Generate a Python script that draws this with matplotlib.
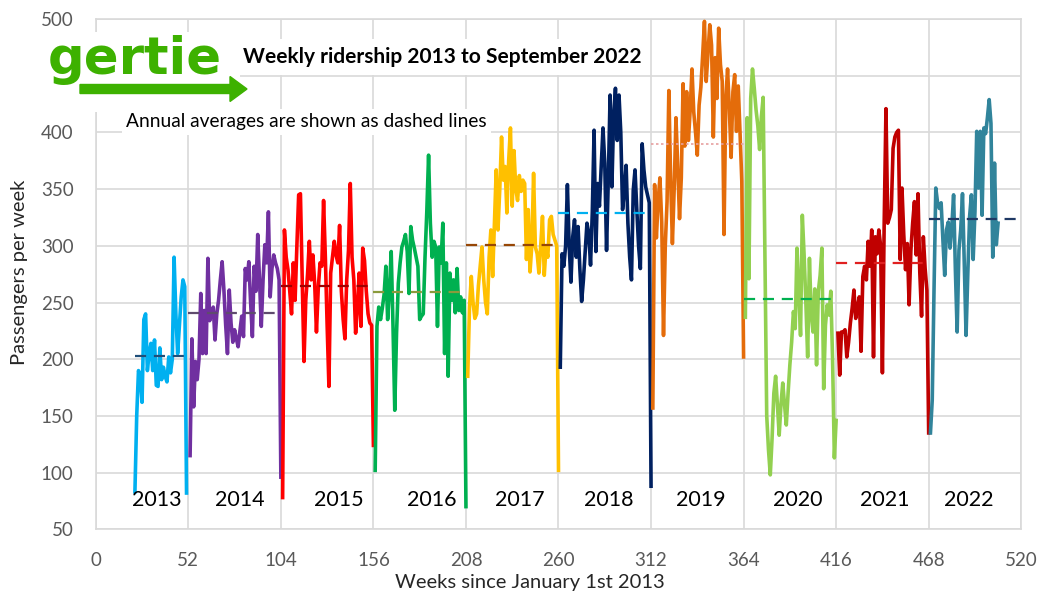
import numpy as np
import matplotlib
matplotlib.use("Agg")
import matplotlib.pyplot as plt
from matplotlib.patches import Rectangle, FancyArrow

plt.rcParams['font.family'] = ['Lato', 'DejaVu Sans']

# weekly passengers, one list per year (first week of each list in start_weeks)
years = [2013, 2014, 2015, 2016, 2017, 2018, 2019, 2020, 2021, 2022]
start_weeks = [22, 53, 105, 157, 209, 261, 313, 365, 417, 469]

v2013 = [83, 150, 190, 185, 162, 235, 240, 190, 205, 214, 190, 217, 177, 176, 210,
         182, 193, 185, 180, 202, 188, 200, 290, 240, 205, 230, 255, 270, 264, 82]
v2014 = [115, 218, 158, 198, 182, 200, 258, 205, 243, 205, 289, 234, 240, 246, 217,
         240, 252, 270, 286, 261, 230, 205, 261, 232, 215, 226, 218, 211, 225, 238,
         220, 280, 270, 286, 250, 220, 282, 260, 310, 270, 229, 270, 301, 285, 330,
         255, 280, 292, 285, 280, 270, 96]
v2015 = [78, 314, 290, 279, 260, 240, 285, 252, 300, 345, 346, 270, 198, 252, 275,
         304, 270, 292, 267, 224, 262, 285, 282, 340, 290, 230, 176, 276, 290, 304,
         292, 285, 318, 260, 235, 218, 270, 296, 355, 290, 270, 223, 246, 276, 229,
         298, 287, 260, 240, 232, 230, 124]
v2016 = [102, 229, 246, 235, 245, 257, 282, 235, 261, 295, 230, 155, 223, 267, 285,
         299, 304, 310, 295, 258, 317, 305, 298, 290, 282, 235, 238, 240, 290, 330,
         380, 320, 290, 304, 299, 229, 299, 285, 320, 205, 285, 185, 276, 252, 270,
         241, 280, 243, 255, 241, 252, 70]
v2017 = [185, 246, 273, 250, 236, 240, 265, 282, 299, 270, 250, 240, 290, 314, 273,
         320, 367, 314, 350, 396, 358, 370, 329, 375, 404, 335, 384, 350, 340, 362,
         348, 358, 355, 288, 332, 277, 300, 364, 299, 293, 276, 300, 326, 274, 299,
         290, 323, 326, 310, 305, 300, 102]
v2018 = [193, 293, 282, 300, 354, 300, 268, 308, 323, 290, 317, 280, 251, 270, 295,
         320, 311, 283, 330, 402, 295, 355, 335, 370, 404, 373, 296, 360, 433, 352,
         415, 439, 393, 433, 400, 332, 349, 371, 320, 290, 270, 349, 367, 332, 300,
         280, 390, 367, 352, 345, 338, 88]
v2019 = [157, 354, 307, 340, 360, 321, 221, 300, 339, 437, 360, 302, 350, 413, 370,
         324, 360, 443, 388, 436, 393, 420, 456, 418, 400, 380, 424, 440, 468, 498,
         445, 470, 495, 477, 396, 466, 430, 492, 460, 445, 310, 430, 456, 420, 378,
         436, 451, 401, 441, 400, 357, 202]
v2020 = [237, 413, 271, 430, 456, 439, 420, 406, 385, 414, 431, 290, 150, 120, 98,
         130, 170, 185, 160, 133, 160, 179, 160, 142, 170, 195, 215, 242, 227, 298,
         260, 221, 327, 292, 250, 202, 289, 240, 224, 262, 195, 260, 274, 298, 174,
         230, 248, 239, 260, 200, 113, 146]
v2021 = [223, 186, 224, 224, 226, 202, 215, 232, 245, 261, 236, 246, 255, 207, 273,
         282, 270, 304, 282, 314, 202, 308, 293, 314, 300, 188, 320, 421, 320, 325,
         332, 386, 396, 400, 402, 288, 351, 310, 279, 302, 248, 296, 320, 339, 292,
         346, 277, 238, 308, 280, 261, 135]
v2022 = [135, 164, 261, 351, 338, 333, 338, 305, 274, 314, 321, 298, 317, 345, 279,
         224, 296, 314, 346, 285, 221, 276, 326, 345, 288, 330, 401, 351, 401, 327,
         404, 399, 413, 429, 408, 290, 373, 301, 320]
series = [v2013, v2014, v2015, v2016, v2017, v2018, v2019, v2020, v2021, v2022]

averages = [203, 241, 265, 259, 301, 329, 390, 253, 285, 324]

line_colors = ['#00b0f0', '#7030a0', '#ff0000', '#00b050', '#ffc000',
               '#002060', '#e46c0a', '#92d050', '#c00000', '#31849b']
avg_colors = ['#1f4e79', '#5f4b6e', '#a00000', '#8a9a3c', '#974706',
              '#00b0f0', '#e6a0a0', '#00b050', '#e02020', '#1f3864']

label_weeks = [34.5, 81, 136.5, 189, 238, 288, 340, 394.5, 443.5, 490.5]

# y tick labels; 450 sits behind the logo in the original
y_ticks = [50, 100, 150, 200, 250, 300, 350, 400, 450, 500]
y_ticklabels = ['50', '100', '150', '200', '250', '300', '350', '400', '', '500']

fig = plt.figure(figsize=(10.41, 5.97), dpi=100)
ax = fig.add_axes([0.092, 0.1134, 0.889, 0.8546])

grid = '#d9d9d9'
for i, vals in enumerate(series):
    wk = start_weeks[i] + np.arange(len(vals))
    ax.plot(wk, vals, color=line_colors[i], lw=2.6, solid_joinstyle='round', zorder=3)
    x0 = start_weeks[i] if i == 0 else 52 * i
    x1 = 52 * (i + 1)
    if years[i] == 2019:
        ax.plot([x0, x1], [averages[i]] * 2, color=avg_colors[i], lw=1.2,
                ls=(0, (1.5, 1.5)), zorder=4)
    else:
        ax.plot([x0, x1], [averages[i]] * 2, color=avg_colors[i], lw=1.6,
                ls=(0, (5, 3.5)), zorder=4)
    ax.text(label_weeks[i], 76, str(years[i]), ha='center', va='center',
            fontsize=15.5, color='black', zorder=5)

ax.set_xlim(0, 520)
ax.set_ylim(50, 500)
ax.set_xticks(np.arange(0, 521, 52))
ax.set_yticks(y_ticks)
ax.set_yticklabels(y_ticklabels)
ax.grid(True, color=grid, lw=1.2, zorder=0)
ax.tick_params(length=0, labelsize=13.5, labelcolor='#595959', pad=16)
for s in ax.spines.values():
    s.set_color(grid)
    s.set_linewidth(1.2)
ax.set_xlabel('Weeks since January 1st 2013', fontsize=14.5, color='#262626')
ax.set_ylabel('Passengers per week', fontsize=14.5, color='#262626')
ax.xaxis.set_label_coords((530 - 96) / 925, -(582 - 529) / 510, transform=ax.transAxes)
ax.yaxis.set_label_coords(-(96 - 20) / 925, (529 - 272) / 510, transform=ax.transAxes)
ax.xaxis.label.set_va('center')
ax.yaxis.label.set_va('center')

# text boxes on top of the plot
ax.text(243 / 1041, 1 - 57 / 597, 'Weekly ridership 2013 to September 2022',
        transform=fig.transFigure, fontsize=15, fontweight='bold', va='center',
        ha='left', zorder=6,
        bbox=dict(facecolor='white', edgecolor='none', pad=6))
ax.text(126 / 1041, 1 - 122 / 597, 'Annual averages are shown as dashed lines',
        transform=fig.transFigure, fontsize=13.8, va='center', ha='left', zorder=6,
        bbox=dict(facecolor='white', edgecolor='none', pad=3))

# gertie logo
green = '#3db100'
fig.patches.append(Rectangle((40 / 1041, 1 - 112 / 597), 200 / 1041, 80 / 597,
                             transform=fig.transFigure, facecolor='white',
                             edgecolor='none', zorder=5))
fig.text(135 / 1041, 1 - 74 / 597, 'gertie', fontsize=37, fontweight='bold',
         color=green, ha='center', va='baseline', family='DejaVu Sans', zorder=6)
fig.patches.append(FancyArrow(80 / 1041, 1 - 89 / 597, 150 / 1041, 0,
                              width=9 / 597, head_width=25 / 597,
                              head_length=17 / 1041, length_includes_head=False,
                              transform=fig.transFigure, color=green, zorder=6))

fig.savefig('out.png', dpi=100)
